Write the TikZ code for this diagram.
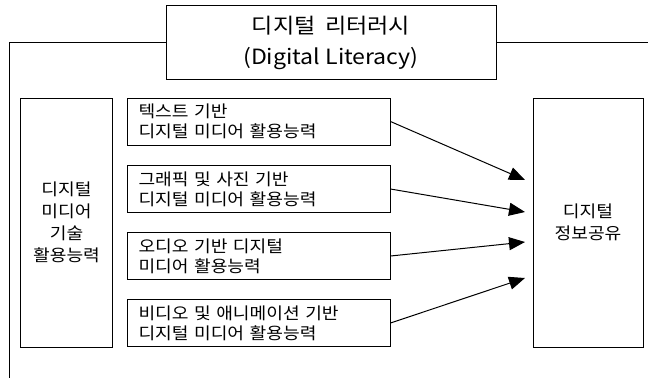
\documentclass[tikz,border=0pt]{standalone}
\usepackage{fontspec}
\setmainfont[WordSpace=1.8,FakeStretch=1.1]{Noto Sans CJK KR}
\newfontfamily\latinpart[FakeStretch=1.1]{Noto Sans CJK KR}
\usetikzlibrary{arrows.meta}
\begin{document}
\begin{tikzpicture}[x=1bp,y=-1bp,
  box/.style={draw, line width=1bp, inner sep=0pt},
  midbox/.style={box, minimum width=263bp, minimum height=47bp, text width=240bp, inner xsep=11.5bp, align=left, font=\fontsize{16.5bp}{20bp}\selectfont},
  sidebox/.style={box, minimum height=249bp, align=center, font=\fontsize{16.5bp}{22bp}\selectfont},
  frame/.style={line width=1bp},
  flow/.style={line width=1bp, -{Triangle[length=16bp,width=13bp]}}]
\useasboundingbox (0,0) rectangle (648,378);

\node[box, minimum width=330bp, minimum height=74bp] (title) at (331,42) {};
\node[align=center, inner sep=0pt, font=\fontsize{21bp}{31bp}\selectfont] (titletext) at (331,43) {디지털 리터러시\\{\latinpart (Digital Literacy)}};
\coordinate (fl) at (9,378);
\coordinate (fr) at (648,42);
\draw[frame] (title.west) -| (fl);
\draw[frame] (title.east) -- (fr);

\node[sidebox, minimum width=91bp] (left) at (66.5,222.5) {디지털\\미디어\\기술\\활용능력};
\node[sidebox, minimum width=110bp] (right) at (588,222.5) {디지털\\정보공유};

\node[midbox] (m1) at (258.5,121.5) {텍스트 기반\\디지털 미디어 활용능력};
\node[midbox] (m2) at (258.5,189) {그래픽 및 사진 기반\\디지털 미디어 활용능력};
\node[midbox] (m3) at (258.5,256) {오디오 기반 디지털\\미디어 활용능력};
\node[midbox] (m4) at (258.5,323) {비디오 및 애니메이션 기반\\디지털 미디어 활용능력};

\coordinate (e1) at (525,180);
\coordinate (e2) at (525,212);
\coordinate (e3) at (525,242);
\coordinate (e4) at (525,278);

\draw[flow] (m1.east) -- (e1);
\draw[flow] (m2.east) -- (e2);
\draw[flow] (m3.east) -- (e3);
\draw[flow] (m4.east) -- (e4);
\end{tikzpicture}
\end{document}
